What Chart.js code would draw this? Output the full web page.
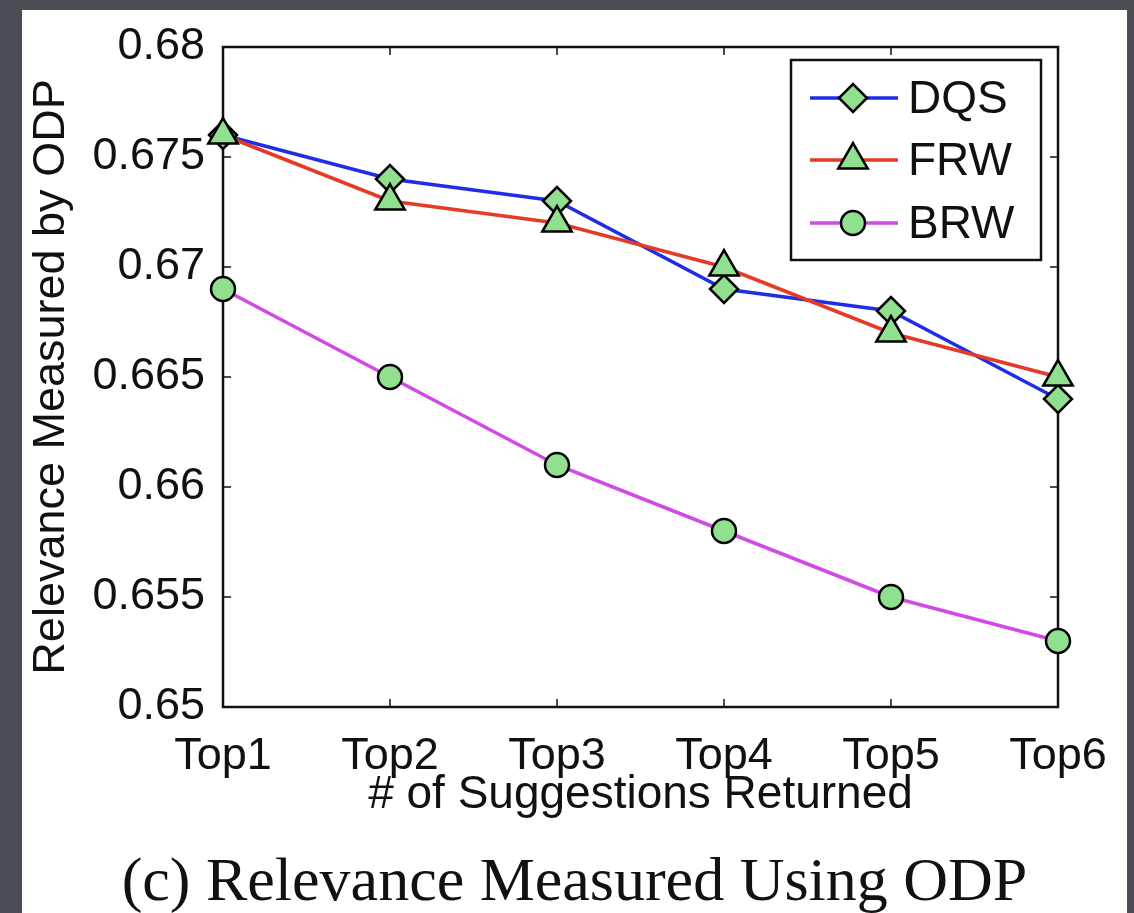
<!doctype html>
<html lang="en">
  <head>
    <meta charset="utf-8">
    <title>Relevance Measured Using ODP</title>
    <style>
      * {
        margin: 0;
        padding: 0;
      }
      body {
        width: 1134px;
        height: 913px;
        overflow: hidden;
        position: relative;
        background: #4b4e55;
        font-family: "Liberation Sans", Arial, sans-serif;
      }
      .panel {
        position: absolute;
        left: 22px;
        top: 10px;
        width: 1105px;
        height: 903px;
        background: #fff;
      }
      .chartBox {
        position: absolute;
        left: 0;
        top: 0;
      }
      .caption {
        position: absolute;
        left: 0;
        top: 838px;
        width: 1105px;
        text-align: center;
        font-family: "Liberation Serif", "Times New Roman", serif;
        font-size: 62px;
        line-height: 62px;
        color: #111;
      }
    </style>
  </head>
  <body>
    <div class="panel">
      <div class="chartBox">
        <canvas id="myChart" width="1105" height="830"></canvas>
      </div>
      <div class="caption">(c) Relevance Measured Using ODP</div>
    </div>
    <script src="https://cdn.jsdelivr.net/npm/chart.js"></script>
    <script>
    // data
    const categories = ['Top1', 'Top2', 'Top3', 'Top4', 'Top5', 'Top6'];
    const dqs = [0.676, 0.674, 0.673, 0.669, 0.668, 0.664];
    const frw = [0.676, 0.673, 0.672, 0.670, 0.667, 0.665];
    const brw = [0.669, 0.665, 0.661, 0.658, 0.655, 0.653];
    const yTicks = [0.65, 0.655, 0.66, 0.665, 0.67, 0.675, 0.68];

    const sans = 'Liberation Sans, Arial, sans-serif';
    const markerFill = '#90e090';

    const data = {
      labels: categories,
      datasets: [{
        label: 'DQS',
        data: dqs,
        borderColor: '#1f2ee6',
        pointStyle: 'rectRot',
        pointRadius: 14,
        order: 1
      }, {
        label: 'FRW',
        data: frw,
        borderColor: '#e43a26',
        pointStyle: 'triangle',
        pointRadius: 17,
        order: 0
      }, {
        label: 'BRW',
        data: brw,
        borderColor: '#d24ae6',
        pointStyle: 'circle',
        pointRadius: 12,
        order: 2
      }]
    };
    data.datasets.forEach(ds => {
      ds.borderWidth = 3.5;
      ds.tension = 0;
      ds.clip = false;
      ds.pointBackgroundColor = markerFill;
      ds.pointBorderColor = '#000';
      ds.pointBorderWidth = 2.5;
      ds.pointHoverRadius = ds.pointRadius;
    });

    // box + small inward ticks, like the matlab axes
    const frame = {
      id: 'frame',
      beforeDatasetsDraw(chart) {
        const {ctx, chartArea: a, scales: {x, y}} = chart;
        ctx.save();
        ctx.strokeStyle = '#111';
        ctx.lineWidth = 1.5;
        ctx.beginPath();
        x.ticks.forEach((t, i) => {
          const px = x.getPixelForTick(i);
          ctx.moveTo(px, a.bottom); ctx.lineTo(px, a.bottom - 8);
          ctx.moveTo(px, a.top); ctx.lineTo(px, a.top + 8);
        });
        yTicks.forEach(v => {
          const py = y.getPixelForValue(v);
          ctx.moveTo(a.left, py); ctx.lineTo(a.left + 8, py);
          ctx.moveTo(a.right, py); ctx.lineTo(a.right - 8, py);
        });
        ctx.stroke();
        ctx.lineWidth = 2.5;
        ctx.strokeRect(a.left, a.top, a.right - a.left, a.bottom - a.top);
        ctx.restore();
      }
    };

    // legend box drawn inside the plot, top right
    const insideLegend = {
      id: 'insideLegend',
      afterDatasetsDraw(chart) {
        const {ctx, chartArea: a} = chart;
        const w = 250, h = 200;
        const left = a.right - 17 - w, top = a.top + 13;
        const rows = [38, 100, 163];
        ctx.save();
        ctx.fillStyle = '#fff';
        ctx.fillRect(left, top, w, h);
        ctx.strokeStyle = '#111';
        ctx.lineWidth = 2.5;
        ctx.strokeRect(left, top, w, h);
        chart.data.datasets.forEach((ds, i) => {
          const yy = top + rows[i];
          ctx.strokeStyle = ds.borderColor;
          ctx.lineWidth = 3.5;
          ctx.beginPath();
          ctx.moveTo(left + 19, yy);
          ctx.lineTo(left + 107, yy);
          ctx.stroke();
          ctx.fillStyle = markerFill;
          ctx.strokeStyle = '#000';
          ctx.lineWidth = 2.5;
          Chart.helpers.drawPoint(ctx, {
            pointStyle: ds.pointStyle,
            radius: ds.pointRadius,
            rotation: 0,
            borderWidth: 2.5
          }, left + 62, yy);
          ctx.fillStyle = '#111';
          ctx.font = '46px ' + sans;
          ctx.textBaseline = 'middle';
          ctx.textAlign = 'left';
          ctx.fillText(ds.label, left + 117, yy + 2);
        });
        ctx.restore();
      }
    };

    const config = {
      type: 'line',
      data,
      options: {
        responsive: false,
        animation: false,
        events: [],
        layout: {
          padding: {top: 27, right: 69, bottom: 0, left: 0}
        },
        plugins: {
          legend: {display: false},
          tooltip: {enabled: false}
        },
        scales: {
          x: {
            grid: {display: false},
            border: {display: false},
            ticks: {
              color: '#111',
              font: {family: sans, size: 45},
              padding: 15,
              autoSkip: false,
              maxRotation: 0
            },
            title: {
              display: true,
              text: '# of Suggestions Returned',
              color: '#111',
              font: {family: sans, size: 46},
              padding: {top: 0, bottom: 17}
            },
            afterFit(scale) { scale.height = 133; }
          },
          y: {
            min: 0.65,
            max: 0.68,
            grid: {display: false},
            border: {display: false},
            afterBuildTicks(scale) {
              scale.ticks = yTicks.map(v => ({value: v}));
            },
            ticks: {
              color: '#111',
              font: {family: sans, size: 45},
              padding: 10,
              callback: v => String(+v.toFixed(3))
            },
            title: {
              display: true,
              text: 'Relevance Measured by ODP',
              color: '#111',
              font: {family: sans, size: 45},
              padding: {top: 3, bottom: 0}
            },
            afterFit(scale) { scale.width = 201; }
          }
        }
      },
      plugins: [frame, insideLegend]
    };

    const myChart = new Chart(document.getElementById('myChart'), config);
    </script>
  </body>
</html>
